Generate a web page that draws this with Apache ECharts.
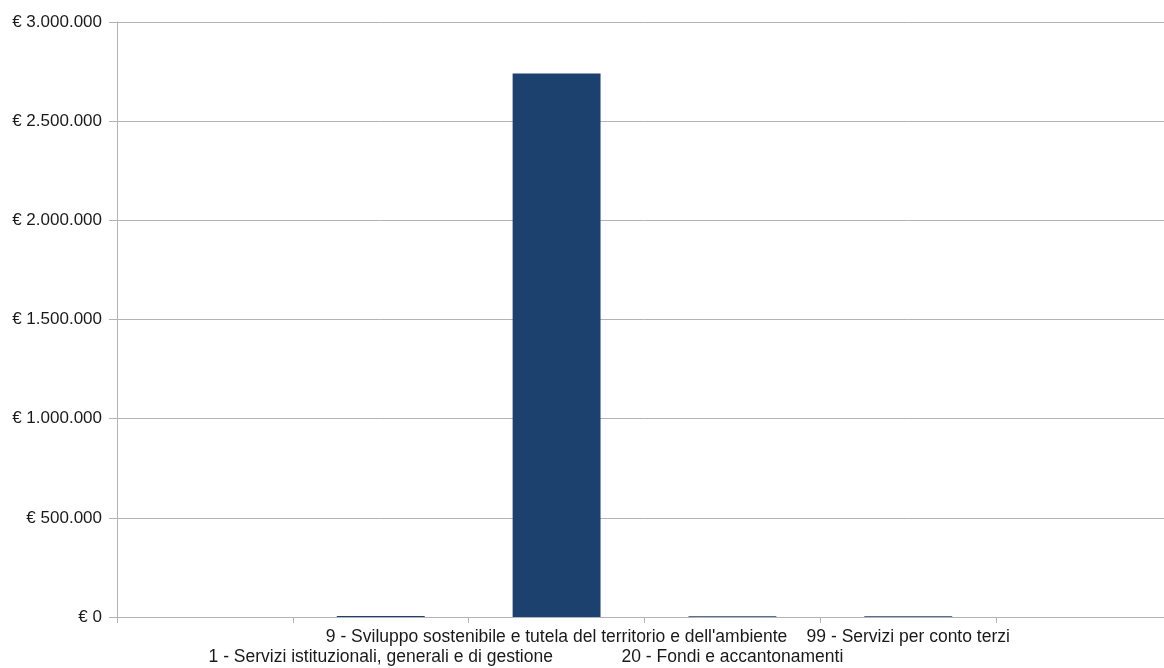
<!DOCTYPE html>
<html>
<head>
<meta charset="utf-8">
<script src="https://cdn.jsdelivr.net/npm/echarts@6/dist/echarts.min.js"></script>
<style>html,body{margin:0;padding:0;background:#fff;overflow:hidden;width:1164px;height:668px}#c{width:1172px;height:668px}</style>
</head>
<body>
<div id="c"></div>
<script>
const categories = ['', '1 - Servizi istituzionali, generali e di gestione', "9 - Sviluppo sostenibile e tutela del territorio e dell'ambiente", '20 - Fondi e accantonamenti', '99 - Servizi per conto terzi', ''];
const values = [null, 5000, 2740000, 4000, 4000, null];
const yTicks = [0, 500000, 1000000, 1500000, 2000000, 2500000, 3000000];

function fmtEuro(v) {
  return '€ ' + String(v).replace(/\B(?=(\d{3})+(?!\d))/g, '.');
}

const chart = echarts.init(document.getElementById('c'), null, {renderer: 'canvas'});
chart.setOption({
  animation: false,
  grid: {left: 117, right: 0, top: 22, bottom: 51, containLabel: false},
  xAxis: {
    type: 'category',
    data: categories,
    axisLine: {lineStyle: {color: '#b3b3b3', width: 1}},
    axisTick: {show: true, length: 6, lineStyle: {color: '#b3b3b3'}, interval: 0},
    axisLabel: {
      interval: 0,
      color: '#1a1a1a',
      fontFamily: 'Liberation Sans',
      fontSize: 17.5,
      lineHeight: 20,
      margin: 10,
      formatter: function (v, i) { return (i % 2 === 1) ? '\n' + v : v; }
    }
  },
  yAxis: {
    type: 'value',
    min: 0,
    max: yTicks[yTicks.length - 1],
    interval: yTicks[1] - yTicks[0],
    axisLine: {show: true, lineStyle: {color: '#b3b3b3'}},
    axisTick: {show: true, length: 8, lineStyle: {color: '#b3b3b3'}},
    splitLine: {show: true, lineStyle: {color: '#b3b3b3', width: 1}},
    axisLabel: {
      color: '#1a1a1a',
      fontFamily: 'Liberation Sans',
      fontSize: 17,
      margin: 15,
      formatter: function (v) { return fmtEuro(v); }
    }
  },
  series: [{
    type: 'bar',
    data: values,
    barWidth: '50%',
    itemStyle: {color: '#1d416f'}
  }]
});
</script>
</body>
</html>
